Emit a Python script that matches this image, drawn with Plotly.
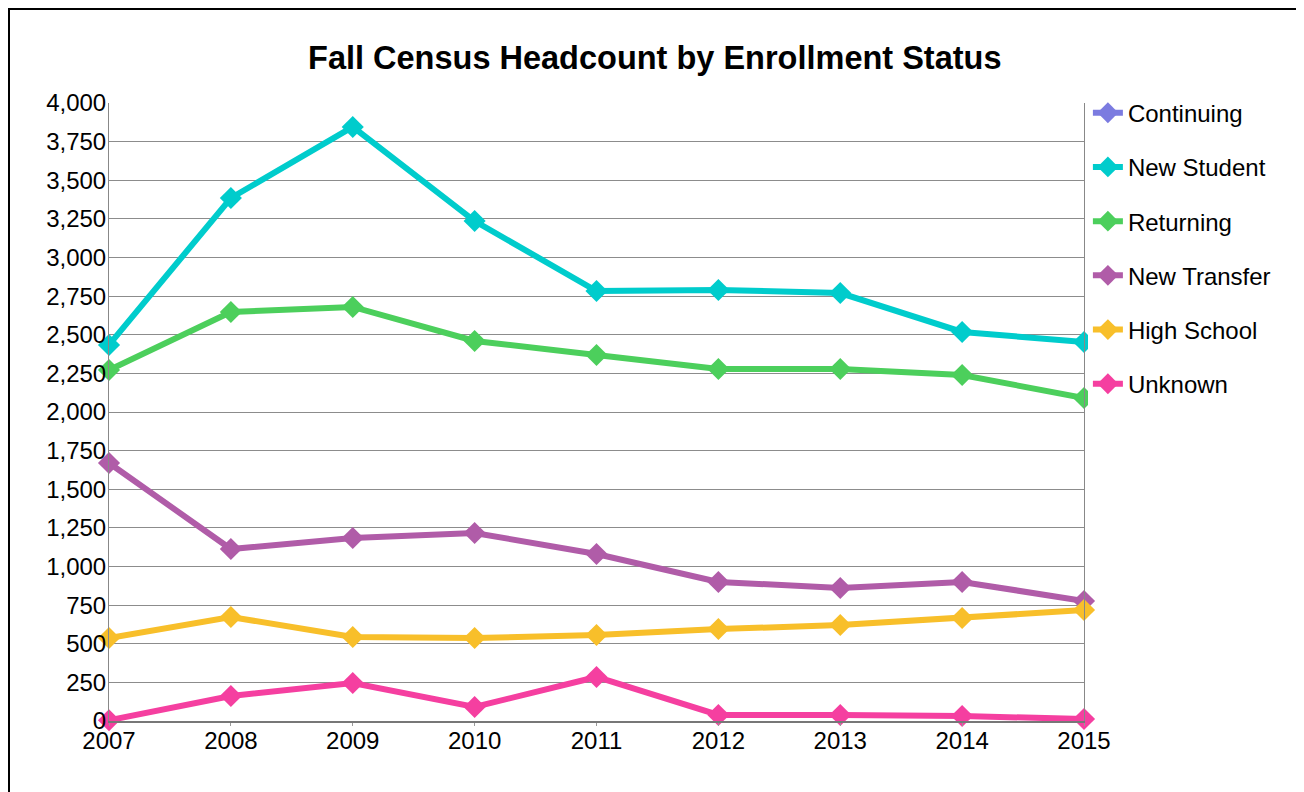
import plotly.graph_objects as go

years = [2007, 2008, 2009, 2010, 2011, 2012, 2013, 2014, 2015]

continuing = [None] * 9
new_student = [2434, 3385, 3845, 3236, 2783, 2790, 2770, 2518, 2453]
returning = [2272, 2647, 2680, 2460, 2369, 2278, 2278, 2239, 2091]
new_transfer = [1670, 1113, 1184, 1217, 1081, 900, 861, 900, 777]
high_school = [537, 673, 544, 537, 557, 595, 621, 667, 718]
unknown = [5, 162, 246, 91, 285, 39, 39, 32, 13]

series = [
    ("Continuing", continuing, "#7b7be0"),
    ("New Student", new_student, "#00cccc"),
    ("Returning", returning, "#4ccf5c"),
    ("New Transfer", new_transfer, "#b05ca8"),
    ("High School", high_school, "#f8bf2a"),
    ("Unknown", unknown, "#f53fa0"),
]

fig = go.Figure()
for name, vals, color in series:
    fig.add_trace(
        go.Scatter(
            x=years,
            y=vals,
            name=name,
            legendgroup=name,
            mode="lines+markers",
            line=dict(color=color, width=6),
            marker=dict(symbol="diamond", size=17, color=color),
            cliponaxis=False,
        )
    )

# page has an 8px body margin, so margins are shifted to compensate
fig.update_layout(
    width=1304,
    height=792,
    paper_bgcolor="white",
    plot_bgcolor="white",
    margin=dict(l=101, r=228, t=95, b=79),
    font=dict(family="Liberation Sans, Arial, sans-serif", size=24, color="black"),
    title=dict(
        text="<b>Fall Census Headcount by Enrollment Status</b>",
        x=0.496,
        xanchor="center",
        y=0.937,
        yanchor="middle",
        font=dict(size=32.5),
    ),
    legend=dict(
        x=1.004,
        y=1.02,
        xanchor="left",
        yanchor="top",
        tracegroupgap=20,
        font=dict(size=24),
        itemwidth=30,
    ),
    shapes=[
        # outer chart frame
        dict(
            type="rect",
            xref="paper",
            yref="paper",
            x0=-100 / 975,
            x1=1189 / 975,
            y0=-0.14,
            y1=712 / 618,
            line=dict(color="black", width=2),
            fillcolor="rgba(0,0,0,0)",
            layer="below",
        )
    ],
)

fig.update_xaxes(
    range=[2007, 2015],
    tickvals=years,
    showgrid=False,
    showline=True,
    linecolor="#777777",
    linewidth=2,
    ticks="outside",
    ticklen=3,
    tickcolor="#999999",
    ticklabelstandoff=-6,
    zeroline=False,
)
fig.update_yaxes(
    range=[0, 4000],
    dtick=250,
    tickformat=",",
    showgrid=True,
    gridcolor="#8c8c8c",
    gridwidth=1,
    showline=True,
    linecolor="#888888",
    linewidth=1,
    mirror=True,
    ticks="",
    ticklabelstandoff=-3,
    zeroline=False,
)

fig.write_html("out.html")
